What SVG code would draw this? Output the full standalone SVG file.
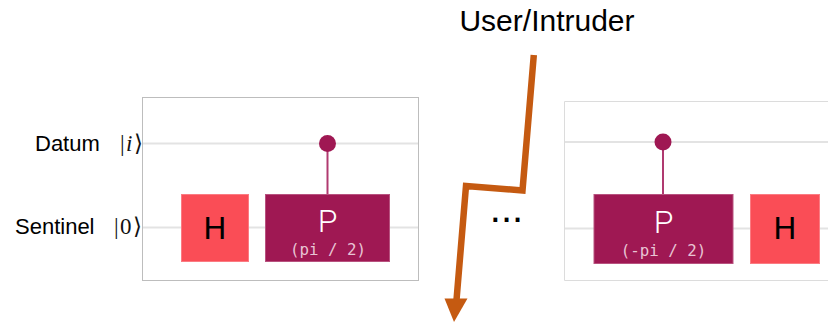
<svg xmlns="http://www.w3.org/2000/svg" width="828" height="322" viewBox="0 0 828 322">
<style>
.frame{fill:#fff;stroke:#bdbdbd;stroke-width:1}
.frame2{fill:#fff;stroke:#dcdcdc;stroke-width:1}
.wire{stroke:#e3e3e3;stroke-width:2;fill:none}
.h{fill:#fa4d56;stroke:#fb7b82;stroke-width:1}
.p{fill:#9f1853;stroke:#b8527f;stroke-width:1}
.ctl{stroke:#b03a70;stroke-width:2;fill:none}
.dot{fill:#9f1853}
.lbl{font-family:"Liberation Sans",Arial,sans-serif;fill:#000}
.math{font-family:"Liberation Serif","DejaVu Serif",serif;font-size:23px;fill:#111;letter-spacing:1.500px}
.gate{font-family:Roboto,"Liberation Sans",sans-serif;font-size:32px;text-anchor:middle;font-weight:300}
.par{font-family:"DejaVu Sans Mono","Liberation Mono",monospace;font-size:15.800px;fill:#e8c4d4;text-anchor:middle}
</style>
<g id="circuit-left">
<rect class="frame" x="142.500" y="97.500" width="276" height="183"/>
<path class="wire" d="M143,143.500H418M143,227.500H418"/>
<path class="ctl" d="M327.500,144V195"/>
<circle class="dot" cx="327.500" cy="143.500" r="8.500"/>
</g>
<g id="gate-h-left">
<rect class="h" x="181.500" y="194.500" width="67" height="67"/>
<text class="gate" x="215" y="239" fill="#000" style="font-weight:400">H</text>
</g>
<g id="gate-p-left">
<rect class="p" x="265.500" y="194.500" width="124" height="67"/>
<text class="gate" x="327.500" y="232" fill="#fff">P</text>
<text class="par" x="328" y="255">(pi / 2)</text>
</g>
<g id="label-datum">
<text class="lbl" x="35" y="151" font-size="22">Datum</text>
<text class="math" x="120" y="151">|<tspan font-style="italic">i</tspan>⟩</text>
</g>
<g id="label-sentinel">
<text class="lbl" x="15" y="234" font-size="22">Sentinel</text>
<text class="math" x="114" y="234">|0⟩</text>
</g>
<g id="circuit-right">
<path class="frame2" d="M828,101.500H564.500V280.500H828"/>
<path class="wire" d="M565,142H828M565,228.500H828"/>
<path class="ctl" d="M663,142V195"/>
<circle class="dot" cx="663" cy="142" r="8.500"/>
</g>
<g id="gate-p-right">
<rect class="p" x="594" y="194.500" width="139" height="69"/>
<text class="gate" x="663.500" y="233" fill="#fff">P</text>
<text class="par" x="663.500" y="256">(-pi / 2)</text>
</g>
<g id="gate-h-right">
<rect class="h" x="750.500" y="194.500" width="69" height="69"/>
<text class="gate" x="785" y="239" fill="#000" style="font-weight:400">H</text>
</g>
<g id="ellipsis">
<text class="lbl" x="506.500" y="222" font-size="40" text-anchor="middle">...</text>
</g>
<g id="user-intruder">
<text class="lbl" x="547" y="31" font-size="30" text-anchor="middle">User/Intruder</text>
</g>
<g id="connectors">
<path d="M533.800,55 L522.500,190.500 L466,186 L456.500,300" fill="none" stroke="#c55a11" stroke-width="6.500"/>
<path d="M444.500,298.500 L467.500,298.500 L454,322 Z" fill="#c55a11"/>
</g>
</svg>
